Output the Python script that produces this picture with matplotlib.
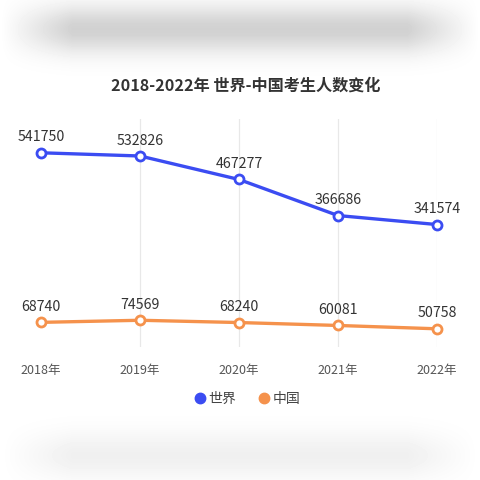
import numpy as np
import matplotlib.pyplot as plt

plt.rcParams['font.family'] = ['Noto Sans CJK SC', 'DejaVu Sans']

years = ['2018年', '2019年', '2020年', '2021年', '2022年']
world = [541750, 532826, 467277, 366686, 341574]
china = [68740, 74569, 68240, 60081, 50758]
series_names = ['世界', '中国']
title = '2018-2022年 世界-中国考生人数变化'

blue = '#3b4cf2'
orange = '#f5924c'

fig = plt.figure(figsize=(4.8, 4.8), dpi=100)

# blurred page background above and below the card
bg = fig.add_axes([0, 0, 1, 1], zorder=-10)
yy = np.linspace(0, 1, 480)
top = np.exp(-((yy - 0.06) / 0.05) ** 2) * 0.18
bot = np.exp(-((yy - 0.95) / 0.05) ** 2) * 0.06
shade = 1 - top - bot
img = np.repeat(shade[:, None], 480, axis=1)
xx = np.linspace(0, 1, 480)
edge = np.clip(np.minimum(xx, 1 - xx) / 0.15, 0, 1)
img = 1 - (1 - img) * edge[None, :]
bg.imshow(img, cmap='gray', vmin=0, vmax=1, aspect='auto', extent=[0, 1, 1, 0])
bg.set_xlim(0, 1)
bg.set_ylim(1, 0)
bg.axis('off')

ax = fig.add_axes([41 / 480, 1 - 347 / 480, (437 - 41) / 480, (347 - 119) / 480])
x = np.arange(len(years))

for vals, color in [(world, blue), (china, orange)]:
    ax.plot(x, vals, color=color, lw=2.4, marker='o', ms=6.5, mfc='white',
            mec=color, mew=2, clip_on=False, zorder=3)
    for xi, v in zip(x, vals):
        ax.annotate(str(v), (xi, v), xytext=(0, 6), textcoords='offset points',
                    ha='center', va='bottom', fontsize=10.2, color='#333333')

ax.set_xlim(0, 4)
ax.set_ylim(0, 636000)
ax.set_xticks(x)
ax.set_xticklabels(years, fontsize=9, color='#555555')
ax.tick_params(axis='x', length=0, pad=12)
ax.set_yticks([])
for xi in x[1:]:
    ax.axvline(xi, color='#e8e8e8', lw=0.9, zorder=0)
for s in ax.spines.values():
    s.set_visible(False)
ax.patch.set_alpha(0)

fig.text(0.5 + 6 / 480, 1 - 86 / 480, title, ha='center', va='center', fontsize=11.6,
         fontweight='bold', color='#333333')

handles = [plt.Line2D([], [], ls='', marker='o', ms=7.5, color=c) for c in (blue, orange)]
fig.legend(handles, series_names, loc='center', bbox_to_anchor=(0.5 + 6 / 480, 1 - 399 / 480),
           ncol=2, frameon=False, fontsize=10, handletextpad=0.0, columnspacing=1.4,
           handlelength=1.2, labelcolor='#444444')

fig.savefig('out.png', dpi=100, facecolor='white')
